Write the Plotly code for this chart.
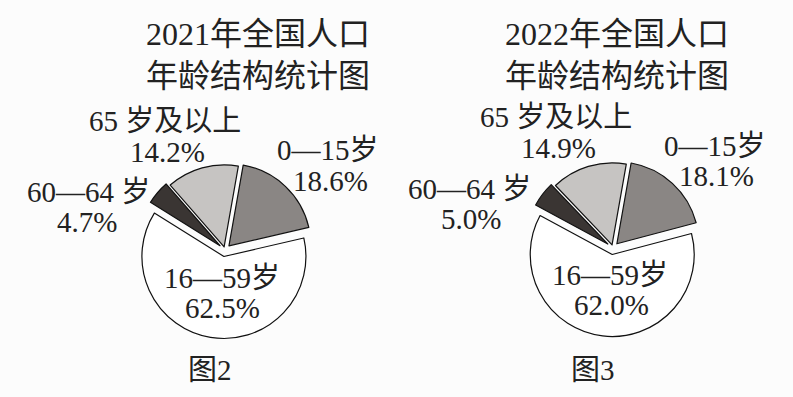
import plotly.graph_objects as go

# ---- data ----
categories = ["0—15岁", "16—59岁", "60—64 岁", "65 岁及以上"]
values_2021 = [18.6, 62.5, 4.7, 14.2]
values_2022 = [18.1, 62.0, 5.0, 14.9]
titles = ["2021年全国人口<br>年龄结构统计图", "2022年全国人口<br>年龄结构统计图"]
captions = ["图2", "图3"]

W, H = 793, 397
FONT = "Liberation Serif, Noto Sans CJK SC, serif"
colors = ["#8a8684", "#ffffff", "#3a3533", "#c6c4c2"]
pulls = [0.07, 0.08, 0.08, 0.04]

def px(x):
    return x / W

def py(y):
    return 1 - y / H

r = 82
maxpull = max(pulls)
half = r * (1 + maxpull)
centers = [(225, 250), (613, 248)]

fig = go.Figure()
for (cx, cy), vals in zip(centers, [values_2021, values_2022]):
    fig.add_trace(go.Pie(
        labels=categories, values=vals, sort=False, direction="clockwise",
        rotation=10, pull=pulls, textinfo="none", hoverinfo="label+value",
        marker=dict(colors=colors, line=dict(color="#111111", width=1.2)),
        domain=dict(x=[px(cx - half), px(cx + half)], y=[py(cy + half), py(cy - half)]),
        showlegend=False,
    ))

ann = []
label_pos = [
    {"title": (258, 55), "cap": (210, 370),
     0: ((328, 150), (330, 181)), 1: ((222, 278), (222, 308)),
     2: ((88, 192), (87, 222)), 3: ((165, 121), (167, 152))},
    {"title": (617, 55), "cap": (593, 370),
     0: ((715, 146), (716, 176)), 1: ((610, 275), (611, 305)),
     2: ((470, 189), (471, 219)), 3: ((556, 117), (558, 148))},
]
for k, vals in enumerate([values_2021, values_2022]):
    lp = label_pos[k]
    tx, ty = lp["title"]
    ann.append(dict(x=px(tx), y=py(ty), text=titles[k], showarrow=False,
                    font=dict(family=FONT, size=32, color="#222"), xanchor="center", yanchor="middle"))
    cx_, cy_ = lp["cap"]
    ann.append(dict(x=px(cx_), y=py(cy_), text=captions[k], showarrow=False,
                    font=dict(family=FONT, size=29, color="#222"), xanchor="center", yanchor="middle"))
    for i, cat in enumerate(categories):
        (lx, ly), (vx, vy) = lp[i]
        ann.append(dict(x=px(lx), y=py(ly), text=cat, showarrow=False,
                        font=dict(family=FONT, size=29, color="#222"), xanchor="center", yanchor="middle"))
        ann.append(dict(x=px(vx), y=py(vy), text=f"{vals[i]:.1f}%", showarrow=False,
                        font=dict(family=FONT, size=29, color="#222"), xanchor="center", yanchor="middle"))

fig.update_layout(
    width=W, height=H, margin=dict(l=0, r=0, t=0, b=0),
    paper_bgcolor="#fcfcfc", plot_bgcolor="#fcfcfc",
    font=dict(family=FONT, color="#222"),
    annotations=ann,
)
fig.write_html("out.html")
